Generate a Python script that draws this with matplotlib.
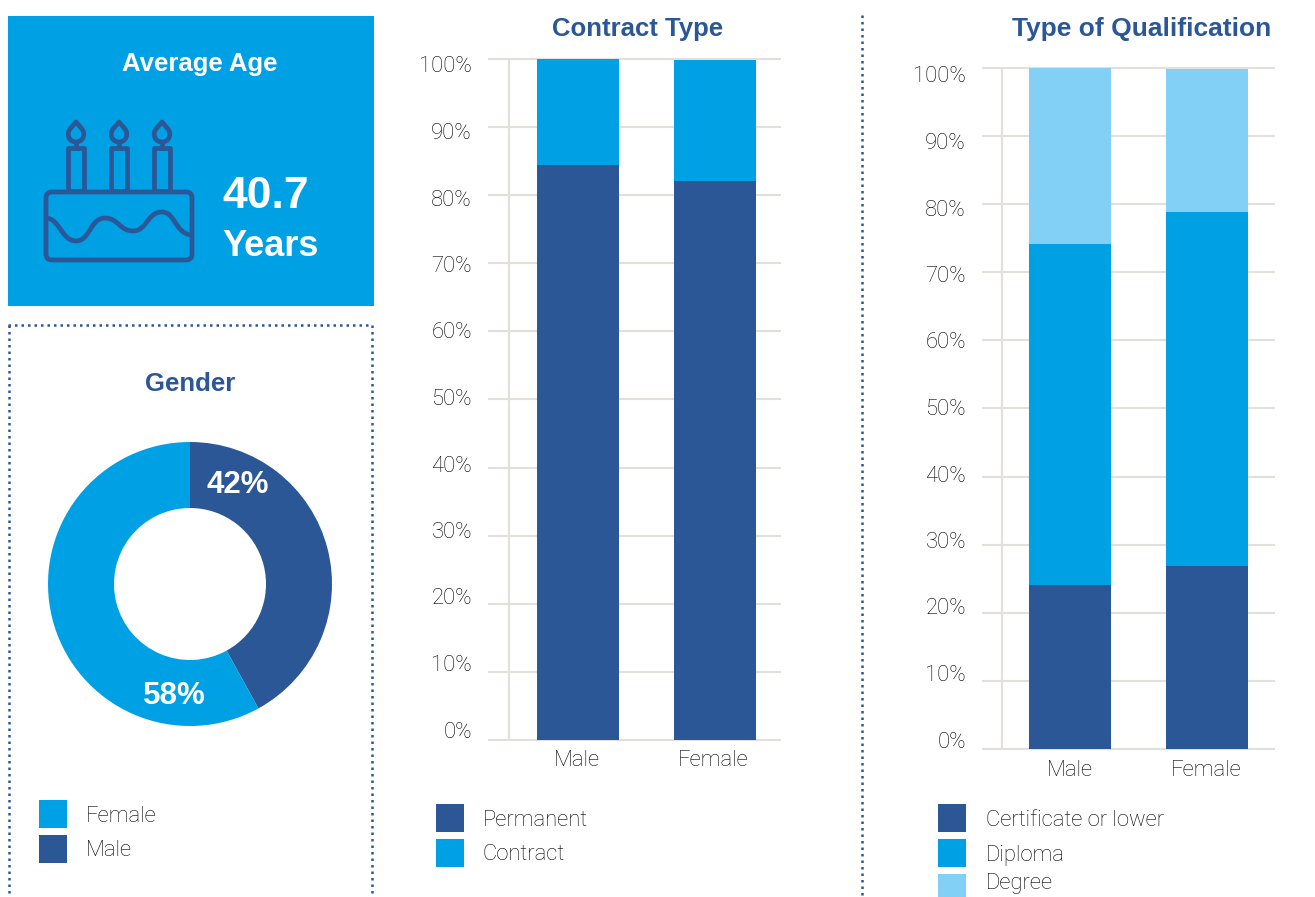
import numpy as np
import matplotlib
matplotlib.use("Agg")
import matplotlib.pyplot as plt
from matplotlib.patches import Rectangle, FancyBboxPatch, PathPatch
from matplotlib.path import Path

W, H = 1315, 897
DARK = "#2b5797"
BLUE = "#00a0e4"
LIGHT = "#82d0f5"
GRID = "#e3dfdb"
TEXT = "#000000"

plt.rcParams["font.family"] = ["Liberation Sans", "DejaVu Sans"]
LABEL_FONT = {"family": ["Roboto", "Liberation Sans"], "fontweight": "light", "fontsize": 15.8, "color": TEXT}

genders = ["Male", "Female"]
gender_share = [42, 58]

contract_labels = ["Permanent", "Contract"]
contract_male = [84.4, 15.6]
contract_female = [82.1, 17.75]

qual_labels = ["Certificate or lower", "Diploma", "Degree"]
qual_male = [24.1, 50.1, 25.8]
qual_female = [26.9, 52.0, 20.95]

yticks = [0, 10, 20, 30, 40, 50, 60, 70, 80, 90, 100]


def px_axes(fig, left, top, right, bottom):
    return fig.add_axes([left/W, 1-bottom/H, (right-left)/W, (bottom-top)/H])


def stacked(fig, box, xlim, male, female, colors, vline):
    ax = px_axes(fig, *box)
    ax.set_xlim(*xlim)
    ax.set_ylim(0, 100)
    ax.axis("off")
    ax.hlines(yticks, xlim[0], xlim[1], color=GRID, lw=1.5, zorder=1, clip_on=False)
    ax.axvline(vline, color=GRID, lw=1.5, zorder=1)
    bottom = np.zeros(2)
    for m, f, c in zip(male, female, colors):
        ax.bar([0, 1], [m, f], 0.6, bottom=bottom, color=c, zorder=2, clip_on=False)
        bottom += [m, f]
    return ax


fig = plt.figure(figsize=(W/100, H/100), dpi=100)

# bars
stacked(fig, (488, 59, 781, 740), (-0.657, 1.482), contract_male, contract_female, [DARK, BLUE], -0.504)
stacked(fig, (982, 68, 1275, 749), (-0.642, 1.497), qual_male, qual_female, [DARK, BLUE, LIGHT], -0.496)

# donut
ax = px_axes(fig, 48, 442, 332, 726)
ax.pie(gender_share, colors=[DARK, BLUE], startangle=90, counterclock=False, radius=1,
       wedgeprops={"width": 66/142, "linewidth": 0})
ax.set_xlim(-1, 1)
ax.set_ylim(-1, 1)

# everything else is placed in pixels
ov = fig.add_axes([0, 0, 1, 1], zorder=5)
ov.set_xlim(0, W)
ov.set_ylim(H, 0)
ov.axis("off")
ov.add_patch(Rectangle((8, 16), 366, 290, color=BLUE, lw=0))

# cake icon
lw = 3.4
ov.add_patch(FancyBboxPatch((46, 192), 146, 68, boxstyle="round,pad=0,rounding_size=6",
                            fc="none", ec=DARK, lw=lw))
for cx in [76, 119, 162]:
    ov.add_patch(Rectangle((cx-8, 148), 16, 43, fc="none", ec=DARK, lw=lw, joinstyle="round"))
    flame = Path([(cx, 122), (cx+6, 129), (cx+10, 134), (cx+7, 142), (cx, 142),
                  (cx-7, 142), (cx-10, 134), (cx-6, 129), (cx, 122)],
                 [Path.MOVETO, Path.LINETO, Path.CURVE4, Path.CURVE4, Path.CURVE4,
                  Path.CURVE4, Path.CURVE4, Path.CURVE4, Path.CLOSEPOLY])
    ov.add_patch(PathPatch(flame, fc="none", ec=DARK, lw=lw, joinstyle="round"))
    ov.plot([cx, cx], [142, 148], color=DARK, lw=lw)
wave = Path([(47, 218), (60, 220), (62, 241), (76, 241), (90, 241), (90, 218), (105, 218),
             (118, 218), (120, 231), (133, 231), (147, 231), (147, 212), (162, 212),
             (175, 212), (175, 233), (191, 235)],
            [Path.MOVETO] + [Path.CURVE4]*15)
ov.add_patch(PathPatch(wave, fc="none", ec=DARK, lw=lw))

# dotted frames
dots = (0, (1, 1.6))
ov.plot([8, 372], [325, 325], color=DARK, lw=1.8, ls=dots)
ov.plot([9, 9], [325, 897], color=DARK, lw=1.8, ls=dots)
ov.plot([372, 372], [325, 897], color=DARK, lw=1.8, ls=dots)
ov.plot([862, 862], [15, 897], color=DARK, lw=1.8, ls=dots)

# headings
ov.text(200, 64, "Average Age", color="white", fontsize=18.5, fontweight="bold", ha="center", va="center")
ov.text(222, 197, "40.7", color="white", fontsize=32, fontweight="bold", ha="left", va="center")
ov.text(222, 247, "Years", color="white", fontsize=26, fontweight="bold", ha="left", va="center")
ov.text(190, 384, "Gender", color=DARK, fontsize=18.5, fontweight="bold", ha="center", va="center")
ov.text(638, 29, "Contract Type", color=DARK, fontsize=18.5, fontweight="bold", ha="center", va="center")
ov.text(1142, 29, "Type of Qualification", color=DARK, fontsize=19, fontweight="bold", ha="center", va="center")

ov.text(238, 485, "42%", color="white", fontsize=22.5, fontweight="bold", ha="center", va="center")
ov.text(174, 696, "58%", color="white", fontsize=22.5, fontweight="bold", ha="center", va="center")

# tick labels sit slightly off their gridlines in the source
for i, t in enumerate(yticks):
    ov.text(472, 732-i*66.5, f"{t}%", ha="right", va="center", **LABEL_FONT)
    ov.text(966, 742-i*66.5, f"{t}%", ha="right", va="center", **LABEL_FONT)
for x, name in zip([577, 713], genders):
    ov.text(x, 760, name, ha="center", va="center", **LABEL_FONT)
for x, name in zip([1070, 1206], genders):
    ov.text(x, 770, name, ha="center", va="center", **LABEL_FONT)


def legend(x, ys, labels, colors, tx):
    for y, lab, c in zip(ys, labels, colors):
        ov.add_patch(Rectangle((x, y-14), 28, 28, color=c, lw=0))
        # keep the text inside the bottom edge of the figure
        ov.text(tx, min(y+2, 884), lab, ha="left", va="center", **LABEL_FONT)


legend(39, [814, 849], ["Female", "Male"], [BLUE, DARK], 86)
legend(436, [818, 853], contract_labels, [DARK, BLUE], 483)
legend(938, [818, 853, 888], qual_labels, [DARK, BLUE, LIGHT], 986)

fig.savefig("out.png", dpi=100)
